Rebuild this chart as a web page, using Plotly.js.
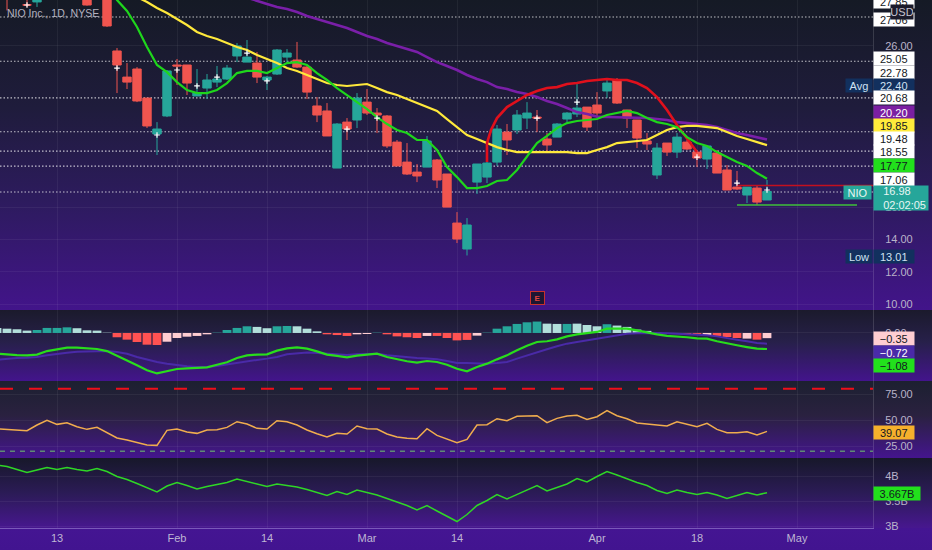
<!DOCTYPE html>
<html>
<head>
<meta charset="utf-8">
<script src="https://cdn.plot.ly/plotly-3.0.1.min.js"></script>
<style>
html,body{margin:0;padding:0;background:#43158e;}
#chart{position:absolute;left:0;top:0;width:932px;height:550px;overflow:hidden;
background:
 linear-gradient(#1b1a2c,#27204a 45%,#43148c) 0 310px/100% 71px no-repeat,
 linear-gradient(#1c2030,#2a2140 45%,#44158e) 0 381px/100% 77px no-repeat,
 linear-gradient(#17182a,#2b1b56 50%,#47178f) 0 458px/100% 70px no-repeat,
 linear-gradient(#441592,#421490) 0 528px/100% 22px no-repeat,
 linear-gradient(#151a25,#1f1c3c 35%,#2d1b5e 65%,#42148a) 0 0/100% 310px no-repeat;}
</style>
</head>
<body>
<div id="chart"></div>
<script>
// session index runs from -6; index 0 is 13 Jan, one step per trading day
const firstSession = -6;
const tickSessions = [0, 12, 21, 31, 40, 54, 64, 74];
const tickLabels = ['13', 'Feb', '14', 'Mar', '14', 'Apr', '18', 'May'];

const open = [30.6,30,29.8,28.55,28.73,29.4,30,30.4,30.2,29.6,29.2,29.6,
 25.69,24.07,24.57,22.77,20.54,21.66,24.82,24.82,22.90,23.39,23.76,23.95,25.38,25.0,24.94,23.89,24.26,25.31,25.13,24.69,
 22.28,21.97,18.43,21.28,21.41,22.52,21.84,21.66,20.04,18.80,18.18,18.49,18.93,18.06,15.02,13.41,17.56,17.87,18.80,20.66,20.79,21.53,21.59,20.23,20.35,21.47,21.78,22.21,22.34,23.21,23.89,
 22.03,21.41,20.11,18.0,19.98,19.42,20.04,19.42,18.99,19.36,18.31,17.25,16.76,17.19,16.45];
const close = [30.2,29.4,29.2,28.54,29.1,29.9,30.5,30,29.7,28.54,29.5,27.24,
 24.82,23.76,22.59,21.04,20.85,24.45,24.76,23.70,23.08,23.89,23.95,24.63,26.00,25.31,24.07,24.07,25.75,25.56,24.69,23.14,
 21.72,20.42,21.16,20.85,22.77,21.84,21.72,19.80,18.56,18.06,17.94,20.11,17.69,16.01,14.03,14.90,18.68,18.74,20.85,20.17,21.72,21.84,21.53,19.86,21.16,21.84,22.15,20.97,21.84,23.70,22.46,
 21.53,20.29,19.92,19.67,19.42,20.35,19.61,19.05,19.80,18.12,17.07,17.13,17.25,16.32,16.98];
const high = [31,30.5,30.2,29.5,29.4,30.3,30.9,30.8,30.5,29.9,29.9,29.9,
 25.87,24.94,24.69,22.77,21.28,24.51,25.19,24.82,24.57,24.26,24.76,24.82,26.18,26.37,25.63,24.14,25.81,25.81,26.25,24.76,
 22.83,22.46,21.22,21.53,23.08,23.33,22.15,21.72,20.17,19.98,18.68,20.42,18.99,18.06,15.70,15.33,18.68,18.93,21.10,21.16,22.03,22.52,22.03,20.6,21.22,21.9,23.76,22.21,23.14,23.89,24.01,
 22.03,21.41,20.6,19.98,19.98,20.6,20.17,19.42,19.86,19.55,18.62,18.25,17.25,17.38,17.69];
const low = [29.9,28.2,29.0,28.4,28.42,29.1,29.7,29.6,29.4,28.5,29.0,27.18,
 23.08,23.33,22.52,20.91,19.24,21.59,23.58,22.96,22.90,22.71,23.45,23.89,25.0,25.0,23.70,23.27,24.2,24.94,24.63,22.71,
 21.28,20.42,18.43,20.17,20.91,21.72,20.6,19.67,18.56,18.0,17.56,18.49,17.19,16.01,13.78,13.01,16.82,17.50,18.56,19.24,20.54,20.85,20.66,19.36,20.35,21.28,21.59,20.73,21.53,22.77,22.4,
 20.91,19.67,19.55,17.75,19.18,19.05,19.55,18.49,18.37,18.12,17.07,17.07,16.26,16.14,16.45];

const crossSessions = [-3,6,10,12,14,16,19,21,29,32,48,52,64,68,71];
const crossPrices = [28.54,24.63,20.48,24.51,23.52,24.07,25.56,23.83,20.85,21.53,21.53,22.52,19.11,17.50,17.07];

const greenStart = 5;
const greenAvg = [29.8,28.85,28.17,27.18,25.94,24.82,24.38,23.76,23.27,23.08,23.08,23.27,23.70,24.32,24.45,24.45,24.32,24.63,24.94,25.0,24.82,
 24.32,23.89,23.39,22.96,22.52,22.09,21.59,21.16,20.79,20.6,20.17,20.17,19.55,18.49,17.87,17.19,17.19,17.32,17.63,17.69,18.31,19.11,19.98,20.42,20.91,21.22,21.35,21.41,21.47,21.72,21.84,
 21.97,21.84,21.53,21.28,21.16,20.97,20.35,19.98,19.80,19.42,19.11,18.80,18.56,18.12,17.77];
const yellowStart = 8;
const yellowAvg = [29.03,28.73,28.35,28.04,27.67,27.30,26.87,26.62,26.43,26.18,25.94,25.75,25.44,25.19,24.94,24.63,24.45,24.2,
 23.95,23.70,23.58,23.52,23.58,23.64,23.39,23.14,22.96,22.71,22.46,22.21,21.97,21.47,20.97,20.48,20.23,19.98,19.73,19.55,19.42,19.42,19.42,19.41,19.41,19.42,19.36,19.36,19.55,19.73,19.98,
 20.04,20.11,20.17,20.48,20.79,20.97,21.04,21.04,20.97,20.91,20.66,20.42,20.23,20.04,19.85];
const purpleStart = 19;
const purpleAvg = [29.0,28.79,28.6,28.42,28.29,28.11,27.86,
 27.67,27.49,27.30,27.11,26.87,26.62,26.43,26.18,26.0,25.81,25.63,25.31,25.0,24.76,24.51,24.2,23.95,23.76,23.45,23.33,23.14,23.02,22.83,22.59,22.4,22.15,21.9,21.78,21.62,21.6,21.59,
 21.58,21.55,21.53,21.47,21.41,21.28,21.22,21.16,21.10,20.97,20.79,20.6,20.48,20.35,20.20];
const redSessions = [43,43,43.4,44,45,46,47,48,49,50,51,52,53,54,55,56,57,58,59,60,61,62,63,64];
const redAvg = [18.80,19.98,20.79,21.53,22.21,22.59,22.96,23.21,23.39,23.45,23.64,23.70,23.83,23.89,23.95,23.89,23.89,23.70,23.39,22.83,22.03,21.10,20.29,19.42];

const levelPrices = [27.8,25.05,22.78,20.68,19.48,18.55,16.95];
const recentHigh = [17.35,17.35];
const recentHighSessions = [68,81.6];
const recentLow = [16.14,16.14];
const recentLowSessions = [68,80];

const histogram = [0.34,0.29,0.25,0.16,0.2,0.34,0.34,0.38,0.32,0.18,0.16,0.02,
 -0.29,-0.45,-0.61,-0.79,-0.81,-0.59,-0.34,-0.25,-0.2,-0.09,0.02,0.2,0.34,0.45,0.41,0.32,0.45,0.47,0.45,0.29,
 0.11,-0.09,-0.14,-0.2,-0.09,-0.07,0.02,-0.09,-0.23,-0.29,-0.34,-0.2,-0.2,-0.34,-0.5,-0.47,-0.18,0.02,0.29,0.45,0.61,0.72,0.77,0.63,0.61,0.61,0.63,0.54,0.45,0.59,0.5,
 0.41,0.23,0.14,0.02,-0.01,-0.05,-0.07,-0.09,-0.14,-0.2,-0.27,-0.34,-0.38,-0.45,-0.35];
const histogramKinds = "llll" + "tttt" + "llll" + "rrrrr" + "ppppp" + "tttt" + "ll" + "tt" + "lll" + "rrr" + "pp" + "t" + "rrrr" + "p" + "rrrr" + "p" + "tttttt" + "ll" + "t" + "lll" + "t" + "lllll" + "pp" + "rr" + "p" + "rrr" + "p" + "r" + "p";
const histogramColours = {t:'#26a69a', l:'#b2dfdb', r:'#ff5252', p:'#ffcdd2'};

const macd = [-1.40,-1.46,-1.49,-1.51,-1.46,-1.22,-1.10,-.99,-.99,-1.06,-1.08,-1.22,-1.51,-1.85,-2.18,-2.52,-2.73,-2.59,-2.43,-2.39,-2.36,-2.32,-2.14,-1.98,-1.69,-1.51,-1.46,-1.44,-1.19,-1.04,-.97,-1.06,-1.24,-1.46,-1.55,-1.64,-1.53,-1.46,-1.40,-1.62,-1.78,-1.91,-2.0,-1.89,-1.96,-2.14,-2.41,
 -2.59,-2.30,-2.07,-1.78,-1.51,-1.17,-.86,-.61,-.56,-.43,-.23,-.09,-.02,.07,.29,.29,.29,.18,.02,-.09,-.2,-.23,-.29,-.36,-.38,-.56,-.72,-.83,-.95,-1.06,-1.08];
const macdSignal = [-1.80,-1.73,-1.69,-1.67,-1.62,-1.51,-1.40,-1.33,-1.26,-1.24,-1.22,-1.22,-1.28,-1.40,-1.62,-1.80,-1.96,-2.07,-2.18,-2.25,-2.30,-2.30,-2.23,-2.12,-2.0,-1.89,-1.82,-1.73,-1.62,-1.44,-1.35,-1.31,-1.35,-1.40,-1.44,-1.49,-1.44,-1.42,-1.40,-1.51,-1.58,-1.64,-1.69,-1.73,-1.78,-1.89,-2.03,
 -2.03,-2.05,-2.07,-2.03,-1.96,-1.73,-1.51,-1.28,-1.10,-.90,-.72,-.61,-.5,-.38,-.27,-.14,-.05,-.02,0,0,-.02,-.05,-.07,-.11,-.16,-.23,-.32,-.45,-.56,-.68,-.72];

const rsi = [41.67,41.03,40.38,39.74,45.19,49.68,45.83,47.44,43.59,41.03,42.95,38.14,32.69,30.77,28.53,25.96,25.64,40.06,41.35,38.46,37.18,40.38,40.71,42.95,48.4,46.15,41.99,41.35,49.36,48.4,45.19,40.38,36.86,33.65,37.18,36.54,44.23,41.67,41.35,36.54,33.65,32.37,32.05,41.67,35.26,31.41,28.21,
 31.41,45.19,45.51,51.28,49.36,53.53,53.85,54.17,47.44,51.6,53.85,54.49,50.64,53.21,58.97,54.17,51.28,47.12,46.15,45.19,44.23,48.4,45.83,43.59,46.79,41.03,37.82,37.82,38.78,35.58,39.07];
const rsiBands = [80, 20];

const volumeB = [4.22,4.19,4.13,4.07,4.12,4.17,4.13,4.17,4.13,4.10,4.15,4.09,3.99,3.93,3.85,3.77,3.68,3.80,3.87,3.81,3.74,3.79,3.83,3.87,3.94,3.89,3.83,3.79,3.84,3.81,3.78,3.73,3.67,3.61,3.69,3.63,3.72,3.67,3.62,3.55,3.48,3.41,3.32,3.41,3.30,3.20,3.09,
 3.23,3.41,3.51,3.63,3.54,3.63,3.72,3.81,3.70,3.77,3.84,3.95,3.88,3.99,4.09,4.02,3.94,3.87,3.81,3.71,3.65,3.72,3.67,3.63,3.67,3.62,3.55,3.61,3.67,3.62,3.667];

const priceTicks = [10,12,14,16,26];
const macdTicks = [0];
const rsiTicks = [25,50,75];
const volumeTicks = [3,3.5,4];
const volumeTickLabels = ['3B','3.5B','4B'];

const FONT = '"Liberation Sans", Arial, sans-serif';
const sessions = open.map((_, i) => firstSession + i);
const from = (start, arr) => arr.map((_, i) => start + i);

const plotH = 528, panelW = 873;
const dom = (top, bottom) => [(plotH - bottom) / plotH, (plotH - top) / plotH];
const axisFont = {family: FONT, size: 11, color: '#b9b3c9'};
const grid = 'rgba(255,255,255,0.055)';

const yBase = {side: 'right', anchor: 'x', tickmode: 'array', ticks: '', ticklabelstandoff: 9, tickfont: axisFont,
  gridcolor: grid, gridwidth: 1, zeroline: false, showline: true, linecolor: 'rgba(255,255,255,0.14)', linewidth: 1};

const L = (x, y, color, width, yaxis, extra) => ({type: 'scatter', mode: 'lines', x, y, yaxis: yaxis || 'y',
  line: Object.assign({color, width}, extra || {}), hoverinfo: 'skip'});

const traces = [
  {type: 'candlestick', x: sessions, open, high, low, close, yaxis: 'y', whiskerwidth: 0,
   increasing: {line: {color: '#26a69a', width: 1}, fillcolor: '#26a69a'},
   decreasing: {line: {color: '#f0554f', width: 1}, fillcolor: '#f0554f'}, hoverinfo: 'skip'},
  L(recentHighSessions, recentHigh, '#c4101f', 1.6),
  L(recentLowSessions, recentLow, '#3fc03a', 1.4),
  L(from(purpleStart, purpleAvg), purpleAvg, '#7a1fa8', 2.6),
  L(from(yellowStart, yellowAvg), yellowAvg, '#ffe93b', 2.2),
  L(redSessions, redAvg, '#e0101c', 2.6),
  L(from(greenStart, greenAvg), greenAvg, '#1fd61c', 2.2),
  {type: 'scatter', mode: 'markers', x: crossSessions, y: crossPrices, yaxis: 'y', hoverinfo: 'skip',
   marker: {symbol: 'cross-thin', size: 4, line: {color: '#ffffff', width: 1.2}}},

  {type: 'bar', x: sessions, y: histogram, yaxis: 'y2', hoverinfo: 'skip',
   marker: {color: histogram.map((_, i) => histogramColours[histogramKinds[i]] || '#ff5252'), line: {width: 0}}},
  L(sessions, macdSignal, '#4a2aa8', 2, 'y2'),
  L(sessions, macd, '#29dd1c', 2.2, 'y2'),

  L(sessions, rsi, '#f0ad4e', 1.5, 'y3'),
  L([-5.7, 81.6], [rsiBands[0], rsiBands[0]], '#ee0f1a', 2, 'y3', {dash: '13px 16px'}),
  L([-5.7, 81.6], [rsiBands[1], rsiBands[1]], '#5f8a75', 1.4, 'y3', {dash: '5px 5px'}),

  L(sessions, volumeB, '#2fd626', 1.5, 'y4')
];

// dotted levels run across the price panel
const shapes = levelPrices.map(v => ({type: 'line', xref: 'x', yref: 'y', x0: -5.7, x1: 81.6, y0: v, y1: v, layer: 'below',
  line: {color: 'rgba(255,255,255,0.72)', width: 1.1, dash: '1.5px 2px'}}));

const paperY = py => 1 - py / plotH;
const tag = (text, py, bg, fg, w, h, size) => ({text, xref: 'paper', yref: 'paper', x: 1, y: paperY(py), xanchor: 'left', yanchor: 'middle',
  showarrow: false, width: w || 39.5, height: h || 13, bgcolor: bg, borderpad: 0, align: 'center', valign: 'middle',
  font: {family: FONT, size: size || 11, color: fg}});
const leftTag = (text, py, bg, fg, w, h, xs) => Object.assign(tag(text, py, bg, fg, w, h), {xanchor: 'right', xshift: xs || 0});

const annotations = [
  tag('27.85', 1, '#ffffff', '#131722'),
  tag('27.06', 19, '#ffffff', '#131722'),
  tag('25.05', 58, '#ffffff', '#131722'),
  tag('22.78', 72, '#ffffff', '#131722'),
  tag('22.40', 85, '#12305e', '#cfe0f2'),
  leftTag('Avg', 85, '#12305e', '#cfe0f2', 26, 13),
  tag('20.68', 98, '#ffffff', '#131722'),
  tag('20.20', 112, '#7b1fa2', '#ffffff'),
  tag('19.85', 125, '#ffeb3b', '#131722'),
  tag('19.48', 139, '#ffffff', '#131722'),
  tag('18.55', 152, '#ffffff', '#131722'),
  tag('17.77', 165, '#22e01c', '#131722'),
  tag('17.06', 179, '#ffffff', '#131722'),
  Object.assign(tag('&nbsp;&nbsp;&nbsp;16.98<br>&nbsp;&nbsp;&nbsp;02:02:05', 197.5, '#26a69a', '#e8f6f4', 54, 24), {align: 'left'}),
  leftTag('NIO', 192, '#26a69a', '#e8f6f4', 27, 13, -1),
  tag('13.01', 256, '#12305e', '#cfe0f2'),
  leftTag('Low', 256, '#12305e', '#cfe0f2', 26, 13),
  tag('−0.35', 338, '#ffcdd2', '#131722'),
  tag('−0.72', 352, '#4a2aa8', '#ffffff'),
  tag('−1.08', 365, '#22e01c', '#131722'),
  tag('39.07', 432, '#f6b02c', '#131722'),
  tag('3.667B', 493, '#22e01c', '#131722', 46),
  {text: 'USD', xref: 'paper', yref: 'paper', x: 1, xshift: 29, y: paperY(12), xanchor: 'center', yanchor: 'middle', showarrow: false,
   width: 22, height: 14, bgcolor: '#1b1b2b', borderpad: 0, font: {family: FONT, size: 11, color: '#c5c3cf'}},
  {text: 'NIO Inc., 1D, NYSE', xref: 'paper', yref: 'paper', x: 5 / panelW, y: paperY(13), xanchor: 'left', yanchor: 'middle', showarrow: false,
   font: {family: FONT, size: 10.5, color: '#b4b2c0'}},
  {text: '<b>E</b>', xref: 'x', yref: 'paper', x: 48, y: paperY(298), xanchor: 'center', yanchor: 'middle', showarrow: false,
   width: 13, height: 12, bgcolor: '#1d1633', bordercolor: '#c7312f', borderwidth: 1, borderpad: 0, font: {family: FONT, size: 8, color: '#e0453f'}}
];

const layout = {
  width: 932, height: 550,
  margin: {l: 0, r: 59, t: 0, b: 22, pad: 0},
  paper_bgcolor: 'rgba(0,0,0,0)', plot_bgcolor: 'rgba(0,0,0,0)',
  showlegend: false, dragmode: false, boxgap: 0.1, boxgroupgap: 0.07, bargap: 0.12, shapes, annotations,
  xaxis: {range: [-5.7, 81.6], anchor: 'y4', tickmode: 'array', tickvals: tickSessions, ticktext: tickLabels, ticks: '',
    tickfont: {family: FONT, size: 11, color: '#bfb6d4'}, showgrid: true, gridcolor: grid, zeroline: false,
    rangeslider: {visible: false}, showline: true, linecolor: 'rgba(190,170,235,0.45)', linewidth: 1},
  yaxis: Object.assign({}, yBase, {domain: dom(0, 310), range: [9.63, 28.85], tickvals: priceTicks, tickformat: '.2f'}),
  yaxis2: Object.assign({}, yBase, {domain: dom(310, 381), range: [-3.24, 1.55], tickvals: macdTicks, tickformat: '.2f'}),
  yaxis3: Object.assign({}, yBase, {domain: dom(381, 458), range: [13.5, 87.5], tickvals: rsiTicks, tickformat: '.2f'}),
  yaxis4: Object.assign({}, yBase, {domain: dom(458, 528), range: [2.96, 4.36], tickvals: volumeTicks, ticktext: volumeTickLabels})
};

Plotly.newPlot('chart', traces, layout, {staticPlot: true, displayModeBar: false});
</script>
</body>
</html>
